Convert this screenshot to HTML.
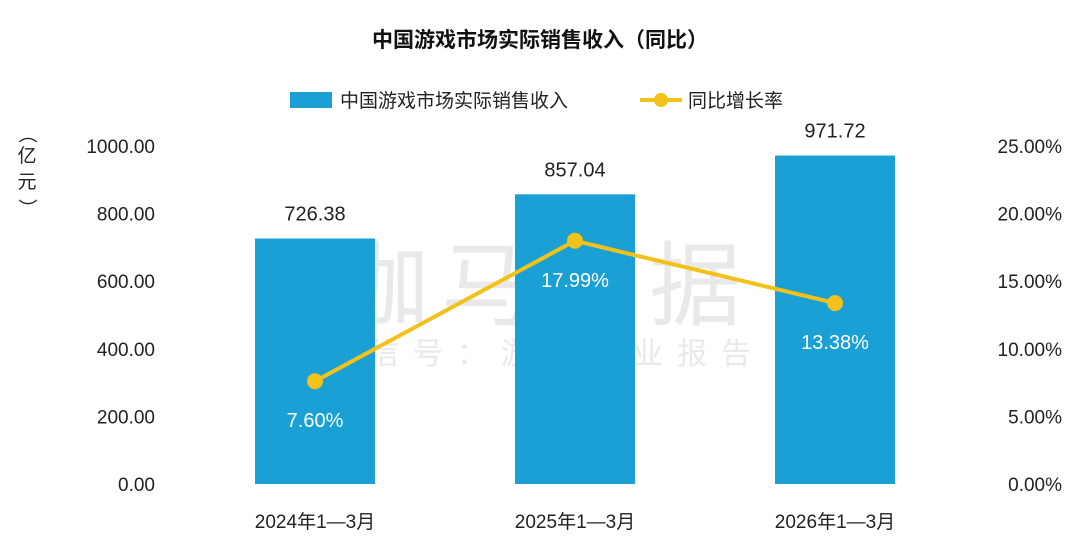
<!DOCTYPE html>
<html><head><meta charset="utf-8">
<style>
body{margin:0;background:#fff;}
svg{display:block;font-family:"Liberation Sans","Noto Sans CJK SC",sans-serif;}
</style></head>
<body>
<svg id="chart" width="1080" height="553" viewBox="0 0 1080 553">
<text x="540" y="47" text-anchor="middle" font-size="21" font-weight="bold" fill="#111">中国游戏市场实际销售收入（同比）</text>
<g>
<rect x="290" y="92" width="42" height="16" fill="#1AA0D4"/>
<text x="340" y="107" font-size="19" fill="#222">中国游戏市场实际销售收入</text>
<line x1="640" y1="100" x2="682" y2="100" stroke="#F2C21B" stroke-width="4"/>
<circle cx="661" cy="100" r="7" fill="#F2C21B"/>
<text x="688" y="107" font-size="19" fill="#222">同比增长率</text>
</g>
<g fill="#e9e9e9">
<text x="545" y="318" text-anchor="middle" font-size="92" letter-spacing="12">伽马数据</text>
<text x="545" y="364" text-anchor="middle" font-size="30" letter-spacing="14">微信号：游戏产业报告</text>
</g>
<g font-size="19" fill="#222">
<text x="27" y="140" text-anchor="middle" transform="rotate(90 27 134)">（</text>
<text x="27" y="162" text-anchor="middle">亿</text>
<text x="27" y="188" text-anchor="middle">元</text>
<text x="27" y="214" text-anchor="middle" transform="rotate(90 27 208)">）</text>
</g>
<g id="left-ticks"></g><g id="right-ticks"></g><g id="bars"></g><g id="line"></g><g id="xcats"></g>
</svg>
<script>
const categories=["2024年1—3月","2025年1—3月","2026年1—3月"];
const revenue=[726.38,857.04,971.72];
const growth=[7.60,17.99,13.38];
const leftTicks=[0,200,400,600,800,1000];
const rightTicks=[0,5,10,15,20,25];
const NS="http://www.w3.org/2000/svg";
const y0=484,yTop=146;
const yL=v=>y0-(v/1000)*(y0-yTop);
const yR=v=>y0-(v/25)*(y0-yTop);
const xC=i=>315+i*260;
function mk(tag,attrs,parent,text){const e=document.createElementNS(NS,tag);for(const k in attrs)e.setAttribute(k,attrs[k]);if(text!==undefined)e.textContent=text;parent.appendChild(e);return e;}
const lt=document.getElementById('left-ticks');
leftTicks.forEach(v=>{const t=mk('text',{x:155,y:yL(v)+7,'text-anchor':'end','font-size':19,fill:'#222'},lt,v.toFixed(2));

});
const rt=document.getElementById('right-ticks');
rightTicks.forEach(v=>{const t=mk('text',{x:1062,y:yR(v)+7,'text-anchor':'end','font-size':19,fill:'#222'},rt,v.toFixed(2)+'%');

});
const bg=document.getElementById('bars');
revenue.forEach((v,i)=>{const r=mk('rect',{x:xC(i)-60,y:yL(v),width:120,height:y0-yL(v),fill:'#1AA0D4'},bg);


const t=mk('text',{x:xC(i),y:yL(v)-18,'text-anchor':'middle','font-size':20,fill:'#222'},bg,v.toFixed(2));

});
const lg=document.getElementById('line');
const p=mk('polyline',{points:growth.map((g,i)=>xC(i)+','+yR(g)).join(' '),fill:'none',stroke:'#F2C21B','stroke-width':4},lg);


growth.forEach((g,i)=>{const c=mk('circle',{cx:xC(i),cy:yR(g),r:8,fill:'#F2C21B'},lg);


const t=mk('text',{x:xC(i),y:yR(g)+46,'text-anchor':'middle','font-size':20,fill:'#fff'},lg,g.toFixed(2)+'%');

});
const xg=document.getElementById('xcats');
categories.forEach((c,i)=>{const t=mk('text',{x:xC(i),y:528,'text-anchor':'middle','font-size':19,fill:'#222'},xg,c);

});
</script>
</body></html>
